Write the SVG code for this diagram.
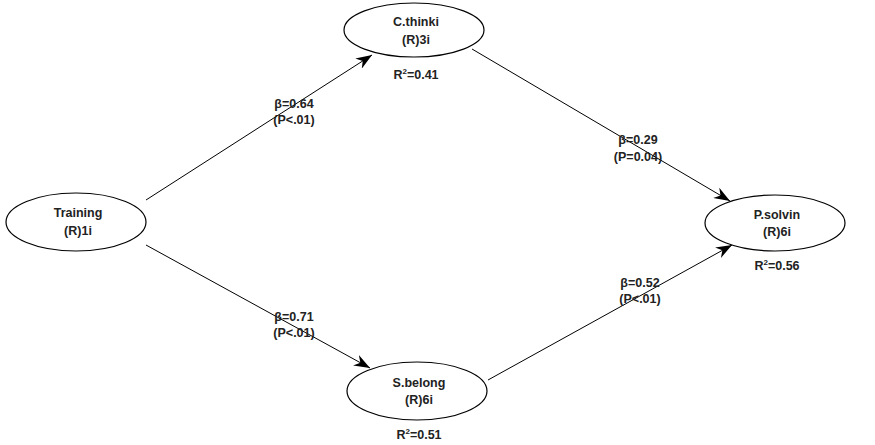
<svg xmlns="http://www.w3.org/2000/svg" width="875" height="445" viewBox="0 0 875 445">
<defs>
<marker id="ah" viewBox="0 0 16 12" refX="16" refY="6" markerWidth="16" markerHeight="12" markerUnits="userSpaceOnUse" orient="auto">
<path d="M0,0 L16,6 L0,12 L5,6 Z" fill="#000"/>
</marker>
<style>
.n{fill:#fff;stroke:#000;stroke-width:1.2}
.t{font-family:"Liberation Sans",Arial,sans-serif;font-size:12.5px;font-weight:bold;fill:#222;text-anchor:middle}
.e{stroke:#000;stroke-width:1;fill:none;marker-end:url(#ah)}
</style>
</defs>
<rect width="875" height="445" fill="#fff"/>
<g id="connectors">
<line class="e" x1="146" y1="200" x2="372" y2="55"/>
<line class="e" x1="472" y1="49" x2="730" y2="201"/>
<line class="e" x1="146" y1="245" x2="370" y2="368"/>
<line class="e" x1="488" y1="380" x2="732" y2="245"/>
<text class="t" x="294" y="108">β=0.64</text>
<text class="t" x="294" y="124">(P&lt;.01)</text>
<text class="t" x="638" y="144">β=0.29</text>
<text class="t" x="638" y="161">(P=0.04)</text>
<text class="t" x="294" y="321">β=0.71</text>
<text class="t" x="294" y="337">(P&lt;.01)</text>
<text class="t" x="640" y="287">β=0.52</text>
<text class="t" x="640" y="303">(P&lt;.01)</text>
</g>
<g id="training">
<ellipse class="n" cx="76" cy="222" rx="70" ry="29"/>
<text class="t" x="78" y="217">Training</text>
<text class="t" x="78" y="235">(R)1i</text>
</g>
<g id="cthinki">
<ellipse class="n" cx="414" cy="30" rx="70" ry="27"/>
<text class="t" x="416" y="26">C.thinki</text>
<text class="t" x="416" y="44">(R)3i</text>
<text class="t" x="416" y="79">R<tspan font-size="8" dy="-5">2</tspan><tspan dy="5">=0.41</tspan></text>
</g>
<g id="psolvin">
<ellipse class="n" cx="775" cy="223" rx="70" ry="28"/>
<text class="t" x="777" y="219">P.solvin</text>
<text class="t" x="777" y="236">(R)6i</text>
<text class="t" x="777" y="270">R<tspan font-size="8" dy="-5">2</tspan><tspan dy="5">=0.56</tspan></text>
</g>
<g id="sbelong">
<ellipse class="n" cx="417" cy="391" rx="70" ry="29"/>
<text class="t" x="419" y="387">S.belong</text>
<text class="t" x="419" y="404">(R)6i</text>
<text class="t" x="419" y="439">R<tspan font-size="8" dy="-5">2</tspan><tspan dy="5">=0.51</tspan></text>
</g>
</svg>
